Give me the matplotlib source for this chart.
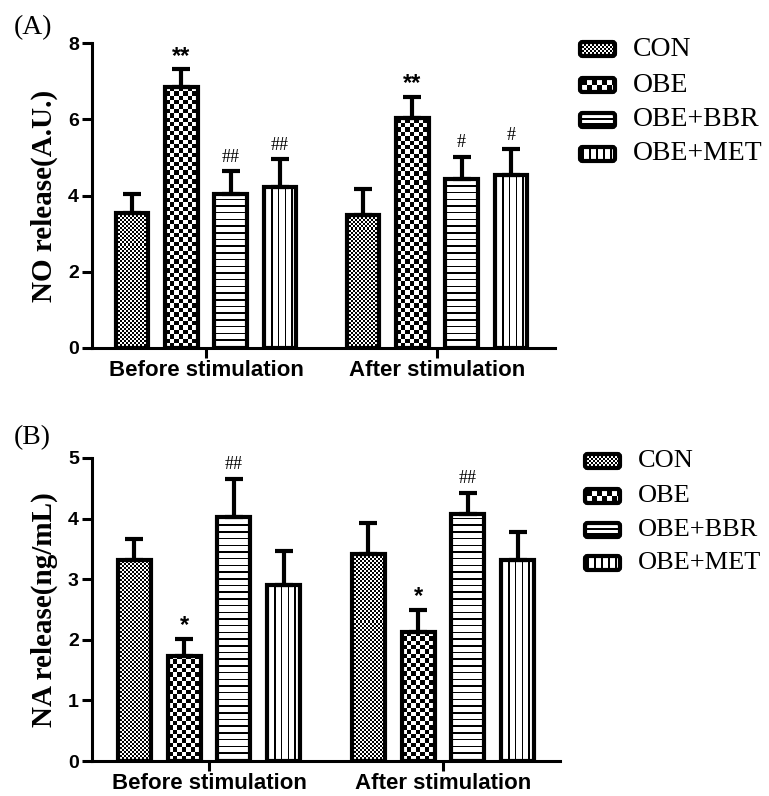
import numpy as np
import matplotlib
matplotlib.use("Agg")
import matplotlib.pyplot as plt
from matplotlib.patches import FancyBboxPatch

plt.rcParams["font.family"] = ["Liberation Sans", "DejaVu Sans"]
plt.rcParams["font.weight"] = "bold"

# ---- data ----
groups = ["Before stimulation", "After stimulation"]
treatments = ["CON", "OBE", "OBE+BBR", "OBE+MET"]

no_before = [3.55, 6.85, 4.03, 4.23]
no_before_err = [0.48, 0.46, 0.61, 0.72]
no_after = [3.50, 6.02, 4.42, 4.55]
no_after_err = [0.66, 0.57, 0.59, 0.66]
no_marks_before = ["", "**", "##", "##"]
no_marks_after = ["", "**", "#", "#"]

na_before = [3.31, 1.73, 4.02, 2.91]
na_before_err = [0.36, 0.29, 0.64, 0.55]
na_after = [3.42, 2.13, 4.07, 3.31]
na_after_err = [0.50, 0.37, 0.36, 0.47]
na_marks_before = ["", "*", "##", ""]
na_marks_after = ["", "*", "##", ""]

# fill pattern per treatment: (kind, step in px) for bars / legend swatch
bar_patterns = {"CON": ("checker", 2.0), "OBE": ("checker", 4.4),
                "OBE+BBR": ("hline", 6.7), "OBE+MET": ("vline", 6.7)}
legend_patterns = {"CON": ("checker", 2.0), "OBE": ("checker", 5.0),
                   "OBE+BBR": ("hline", 5.0), "OBE+MET": ("vline", 7.0)}

W, H = 769, 796
SERIF = ["Liberation Serif", "DejaVu Serif"]


def texture(kind, step, nrow, ncol):
    i, j = np.indices((nrow, ncol))
    if kind == "checker":
        return ((i // step + j // step) % 2).astype(float)
    if kind == "hline":
        return ((i % step) < 1.5).astype(float)
    return ((j % step) < 1.5).astype(float)


def fill_texture(ax, patch, kind, step, sx, sy, x0, y0, w, h):
    ncol = int(np.ceil(w * sx)) + 2
    nrow = int(np.ceil(h * sy)) + 2
    img = texture(kind, step, nrow, ncol)
    im = ax.imshow(img, cmap="gray_r", vmin=0, vmax=1, origin="lower",
                   extent=[x0, x0 + ncol / sx, y0, y0 + nrow / sy],
                   interpolation="nearest", aspect="auto", zorder=2.5)
    im.set_clip_path(patch)


def panel(ax, before, before_err, after, after_err, marks_b, marks_a,
          ylim, yticks, ylabel, xlim, label_x):
    ax.set_xlim(*xlim)
    ax.set_ylim(*ylim)
    sx = ax.bbox.width / (xlim[1] - xlim[0])
    sy = ax.bbox.height / (ylim[1] - ylim[0])

    step, width = 0.213, 0.141
    offsets = (np.arange(len(treatments)) - 1.5) * step
    for g, (vals, errs, marks) in enumerate([(before, before_err, marks_b),
                                              (after, after_err, marks_a)]):
        xs = g + offsets
        base = ax.bar(xs, vals, width, color="white", edgecolor="none", zorder=2)
        for rect, name in zip(base.patches, treatments):
            kind, st = bar_patterns[name]
            fill_texture(ax, rect, kind, st, sx, sy, rect.get_x(), 0,
                         rect.get_width(), rect.get_height())
        ax.errorbar(xs, vals, yerr=[np.zeros(len(vals)), errs], fmt="none",
                    ecolor="black", elinewidth=3, capsize=6.5, capthick=3,
                    zorder=2.8)
        ax.bar(xs, vals, width, fill=False, edgecolor="black", linewidth=3,
               zorder=3)
        for x, v, e, m in zip(xs, vals, errs, marks):
            if not m:
                continue
            if "*" in m:
                ax.annotate(m, (x, v + e), xytext=(0, 1), textcoords="offset points",
                            ha="center", va="bottom", fontsize=17,
                            fontweight="bold")
            else:
                ax.annotate(m, (x, v + e), xytext=(0, 4), textcoords="offset points",
                            ha="center", va="bottom", fontsize=13,
                            family=SERIF, fontweight="normal")

    ax.set_xticks([0, 1])
    ax.set_xticklabels(groups)
    ax.set_yticks(yticks)
    for side in ["top", "right"]:
        ax.spines[side].set_visible(False)
    for side in ["left", "bottom"]:
        ax.spines[side].set_linewidth(2.2)
    ax.tick_params(axis="y", length=7.5, width=2.2, labelsize=14, pad=2)
    ax.tick_params(axis="x", length=7.5, width=2.2, labelsize=16, pad=1)
    ax.set_ylabel(ylabel, family=SERIF, fontweight="bold", fontsize=21,
                  va="center")
    ax.yaxis.set_label_coords(label_x, 0.5)


def legend(ov, rows_y, box_x, text_x, size):
    for yc, name in zip(rows_y, treatments):
        y = H - yc
        box = FancyBboxPatch((box_x, y - 7), 35, 14,
                             boxstyle="round,pad=0,rounding_size=2.5",
                             facecolor="white", edgecolor="none", zorder=2)
        ov.add_patch(box)
        kind, st = legend_patterns[name]
        fill_texture(ov, box, kind, st, 1.0, 1.0, box_x + 2, y - 5, 33, 12)
        ov.add_patch(FancyBboxPatch((box_x, y - 7), 35, 14,
                                    boxstyle="round,pad=0,rounding_size=2.5",
                                    fill=False, edgecolor="black",
                                    linewidth=3, zorder=3))
        ov.text(text_x, y, name, family=SERIF, fontweight="normal",
                fontsize=size, va="center", ha="left")


fig = plt.figure(figsize=(W / 100, H / 100), dpi=100)

ax1 = fig.add_axes([92 / W, 1 - 348 / H, (555 - 92) / W, (348 - 43) / H])
panel(ax1, no_before, no_before_err, no_after, no_after_err,
      no_marks_before, no_marks_after, (0, 8), [0, 2, 4, 6, 8],
      "NO release(A.U.)", (-(206 - 92) / 231, 1 + (555 - 437) / 231),
      (44 - 92) / 463)

ax2 = fig.add_axes([92 / W, 1 - 761 / H, (560 - 92) / W, (761 - 458) / H])
panel(ax2, na_before, na_before_err, na_after, na_after_err,
      na_marks_before, na_marks_after, (0, 5), [0, 1, 2, 3, 4, 5],
      "NA release(ng/mL)", (-(209 - 92) / 234, 1 + (560 - 443) / 234),
      (44 - 92) / 468)

# overlay in pixel coordinates for the panel letters and legends
ov = fig.add_axes([0, 0, 1, 1])
ov.set_xlim(0, W)
ov.set_ylim(0, H)
ov.axis("off")
ov.patch.set_visible(False)

ov.text(14, H - 28, "(A)", family=SERIF, fontweight="normal", fontsize=20,
        va="center", ha="left")
ov.text(14, H - 438, "(B)", family=SERIF, fontweight="normal", fontsize=20,
        va="center", ha="left")

legend(ov, [49, 85, 120, 154], 580, 633, 20)
legend(ov, [461, 496, 530, 563], 585, 638, 19)

fig.savefig("out.png", dpi=100)
